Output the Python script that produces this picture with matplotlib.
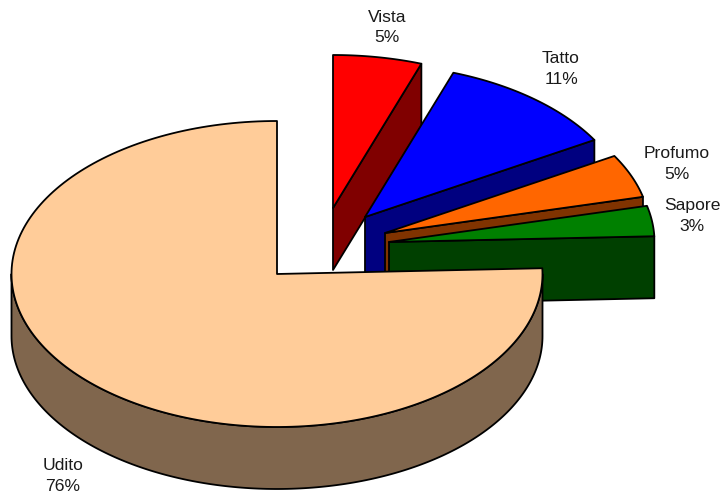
import numpy as np
import matplotlib
matplotlib.use("Agg")
import matplotlib.pyplot as plt
from matplotlib.patches import Polygon

plt.rcParams["font.family"] = ["Liberation Sans", "DejaVu Sans"]

# Slices clockwise from 12 o'clock, values in percent
labels = ["Vista", "Tatto", "Profumo", "Sapore", "Udito"]
values = [5.4, 11.2, 4.6, 3.2, 75.6]

top_colors = ["#FF0000", "#0000FF", "#FF6600", "#008000", "#FFCC99"]
side_colors = ["#800000", "#000080", "#803300", "#004000", "#80664D"]

# Pie geometry, in pixels
center = (277, 274)
rx, ry = 265.5, 153
depth = 62
offsets = [(56, -66), (88, -57), (108, -41), (112, -32), (0, 0)]
label_pos = [(387, 27.5), (561, 69), (677, 164), (692, 216), (63, 476)]


def rim(cx, cy, a0, a1, dy=0):
    # Points on the ellipse between two angles, clockwise from the top
    t = np.radians(np.linspace(a0, a1, 200))
    return np.column_stack([cx + rx * np.sin(t), cy - ry * np.cos(t) + dy])


def add_poly(ax, pts, color):
    ax.add_patch(Polygon(pts, closed=True, facecolor=color, edgecolor="black",
                         linewidth=1.3, joinstyle="round"))


fig = plt.figure(figsize=(7.26, 4.97), dpi=100)
ax = fig.add_axes([0, 0, 1, 1])
ax.set_xlim(0, 726)
ax.set_ylim(497, 0)
ax.axis("off")

edges = np.cumsum([0] + values) * 3.6

for i in range(len(values)):
    a0, a1 = edges[i], edges[i + 1]
    cx = center[0] + offsets[i][0]
    cy = center[1] + offsets[i][1]

    # Cut face on the clockwise side
    if 0 < a1 < 180:
        end = rim(cx, cy, a1, a1)[0]
        add_poly(ax, [(cx, cy), end, end + (0, depth), (cx, cy + depth)],
                 side_colors[i])

    # Outer wall, only the part facing the viewer
    lo, hi = max(a0, 90), min(a1, 270)
    if lo < hi:
        upper = rim(cx, cy, lo, hi)
        lower = rim(cx, cy, hi, lo, depth)
        add_poly(ax, np.vstack([upper, lower]), side_colors[i])

    # Top face
    add_poly(ax, np.vstack([[(cx, cy)], rim(cx, cy, a0, a1)]), top_colors[i])

for name, val, (x, y) in zip(labels, values, label_pos):
    ax.text(x, y, f"{name}\n{round(val)}%", ha="center", va="center",
            fontsize=12.6, color="#1a1a1a", linespacing=1.42)

fig.savefig("out.png", dpi=100, facecolor="white")
